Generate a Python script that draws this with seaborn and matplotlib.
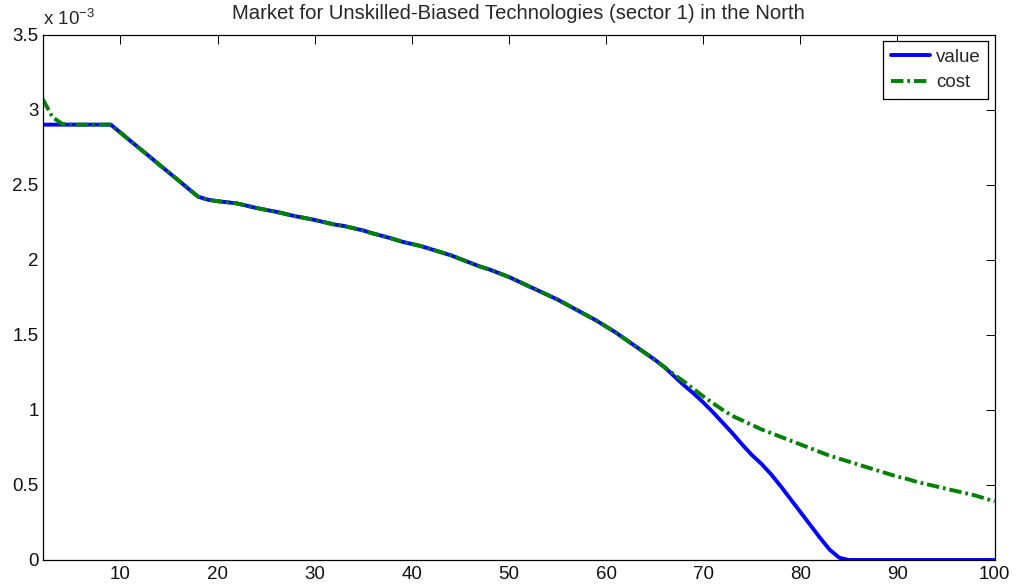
import numpy as np
import pandas as pd
import matplotlib
matplotlib.use("Agg")
import matplotlib.pyplot as plt
from matplotlib.ticker import FuncFormatter
import seaborn as sns

# x = 2..100, values in units of 1e-3
periods = list(range(2, 101))

value_e3 = [
    2.90, 2.90, 2.90, 2.90, 2.90, 2.90, 2.90, 2.90,                  # 2-9
    2.847, 2.793, 2.74, 2.687, 2.633, 2.58, 2.527, 2.473, 2.42,     # 10-18
    2.40, 2.39, 2.383, 2.375, 2.36, 2.345, 2.332, 2.32, 2.305, 2.29, 2.278, 2.265,  # 19-30
    2.25, 2.235, 2.225, 2.21, 2.195, 2.175, 2.158, 2.14, 2.12, 2.105,  # 31-40
    2.09, 2.07, 2.05, 2.03, 2.005, 1.98, 1.955, 1.935, 1.91, 1.885,   # 41-50
    1.855, 1.825, 1.795, 1.765, 1.735, 1.70, 1.665, 1.63, 1.595, 1.555,  # 51-60
    1.515, 1.47, 1.425, 1.38, 1.335, 1.285, 1.225, 1.165, 1.11, 1.05,  # 61-70
    0.985, 0.915, 0.845, 0.77, 0.70, 0.64, 0.57, 0.49, 0.405, 0.32,   # 71-80
    0.235, 0.15, 0.07, 0.015,                                         # 81-84
    0.0, 0.0, 0.0, 0.0, 0.0, 0.0, 0.0, 0.0, 0.0, 0.0, 0.0, 0.0, 0.0, 0.0, 0.0, 0.0,  # 85-100
]

cost_e3 = [
    3.07, 2.95, 2.905, 2.90, 2.90, 2.90, 2.90, 2.90,                 # 2-9
    2.847, 2.793, 2.74, 2.687, 2.633, 2.58, 2.527, 2.473, 2.42,     # 10-18
    2.40, 2.39, 2.383, 2.375, 2.36, 2.345, 2.332, 2.32, 2.305, 2.29, 2.278, 2.265,  # 19-30
    2.25, 2.235, 2.225, 2.21, 2.195, 2.175, 2.158, 2.14, 2.12, 2.105,  # 31-40
    2.09, 2.07, 2.05, 2.03, 2.005, 1.98, 1.955, 1.935, 1.91, 1.885,   # 41-50
    1.855, 1.825, 1.795, 1.765, 1.735, 1.70, 1.665, 1.63, 1.595, 1.555,  # 51-60
    1.515, 1.47, 1.425, 1.38, 1.335, 1.285, 1.235, 1.19, 1.14, 1.09,  # 61-70
    1.045, 1.00, 0.96, 0.93, 0.90, 0.87, 0.845, 0.82, 0.795, 0.77,    # 71-80
    0.745, 0.72, 0.695, 0.675, 0.655, 0.635, 0.615, 0.595, 0.575, 0.555,  # 81-90
    0.54, 0.52, 0.505, 0.49, 0.475, 0.46, 0.445, 0.43, 0.41, 0.39,   # 91-100
]

series_names = ["value", "cost"]
x_ticks = [10, 20, 30, 40, 50, 60, 70, 80, 90, 100]
y_ticks_e3 = [0, 0.5, 1, 1.5, 2, 2.5, 3, 3.5]

sns.set_style("white")
plt.rcParams["font.family"] = ["Liberation Sans", "DejaVu Sans"]
plt.rcParams["mathtext.fontset"] = "custom"
plt.rcParams["mathtext.rm"] = "Liberation Sans"
plt.rcParams["mathtext.it"] = "Liberation Sans:italic"
plt.rcParams["mathtext.default"] = "rm"

df = pd.DataFrame({
    "x": periods,
    "value": np.array(value_e3) * 1e-3,
    "cost": np.array(cost_e3) * 1e-3,
})

fig = plt.figure(figsize=(10.18, 5.86), dpi=100)
ax = fig.add_axes([0.042, 0.0444, 0.935, 0.8966])

sns.lineplot(data=df, x="x", y="value", ax=ax, color=(0, 0, 1), linewidth=2.8,
             label=series_names[0])
sns.lineplot(data=df, x="x", y="cost", ax=ax, color=(0, 0.5, 0), linewidth=2.8,
             linestyle=(0, (3.2, 1.0, 0.7, 1.0)), label=series_names[1])

ax.set_xlim(2, 100)
ax.set_ylim(0, 3.5e-3)
ax.set_xticks(x_ticks)
ax.set_yticks([v * 1e-3 for v in y_ticks_e3])
ax.yaxis.set_major_formatter(FuncFormatter(lambda v, p: f"{v * 1e3:g}"))
ax.set_xlabel("")
ax.set_ylabel("")

# matlab style box with inward ticks on all sides
for s in ax.spines.values():
    s.set_visible(True)
    s.set_color("black")
    s.set_linewidth(0.9)
ax.tick_params(direction="in", length=6.7, width=0.7, top=True, right=True,
               labelsize=13.5, colors="black", pad=3)
ax.tick_params(axis="x", pad=4)
ax.tick_params(axis="both", labelcolor="#111111")

ax.text(0.0, 1.01, r"x 10$^{-3}$", transform=ax.transAxes, fontsize=13.5,
        ha="left", va="bottom")
ax.set_title("Market for Unskilled-Biased Technologies (sector 1) in the North",
             fontsize=14.6, pad=11)

leg = ax.legend(loc="upper right", fancybox=False, framealpha=1, edgecolor="black",
                handlelength=2.1, handletextpad=0.3, borderaxespad=0.35,
                borderpad=0.4, labelspacing=0.45, fontsize=13.5)
leg.get_frame().set_linewidth(0.9)

fig.savefig("out.png", dpi=100)
